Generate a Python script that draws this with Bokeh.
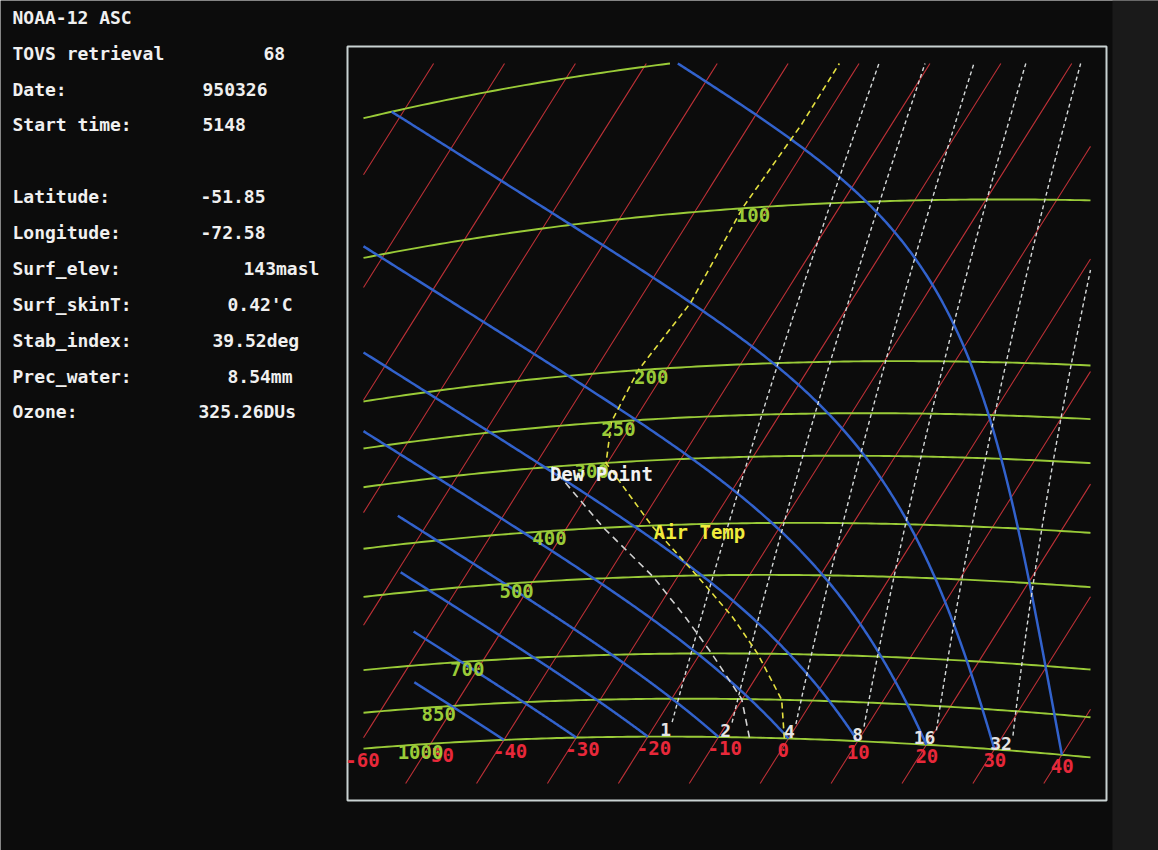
import numpy as np
from bokeh.plotting import figure
from bokeh.models import Range1d
from bokeh.embed import file_html
from bokeh.resources import INLINE
from bokeh.core.properties import value

# ---------------- data ----------------
info_labels = ["NOAA-12 ASC", "TOVS retrieval", "Date:", "Start time:", "Latitude:",
               "Longitude:", "Surf_elev:", "Surf_skinT:", "Stab_index:", "Prec_water:", "Ozone:"]
info_values = ["", "68", "950326", "5148", "-51.85", "-72.58", "143masl",
               "0.42'C", "39.52deg", "8.54mm", "325.26DUs"]

isobars = [1000, 850, 700, 500, 400, 300, 250, 200, 100, 50]          # hPa
isobar_labels = ["1000", "850", "700", "500", "400", "300", "250", "200", "100", ""]
isotherms = list(range(-130, 41, 10))                                   # degC
isotherm_labels = [-60, -50, -40, -30, -20, -10, 0, 10, 20, 30, 40]
theta_w = [-40, -30, -20, -10, 0, 10, 20, 30, 40]                       # saturated adiabats
theta_w_top = [755, 600, 455, 350, 50, 50, 50, 50, 50]                  # hPa where each ends
mixing_ratios = [1, 2, 4, 8, 16, 32]                                    # g/kg
mixing_bottom = 940                                                     # hPa

air_p = [1000, 850, 700, 600, 500, 400, 300, 250, 200, 150, 100, 70, 50]
air_T = [-0.6, -4.4, -11.9, -18.6, -27.4, -38.2, -50.2, -53.1, -53.9, -52.5, -53.6, -52.7, -52.8]
dew_p = [1000, 850, 700, 600, 500, 400, 300]
dew_T = [-5.6, -10.1, -18.4, -25.2, -33.5, -44.8, -57.5]

# ---------------- layout (page pixel space) ----------------
W, H = 1158, 850
X0, Y0 = 788.0, 738.0          # position of 0 degC / 1000 hPa
M_T = 6.0                      # px per degC along the T axis
K_TH = 965.0                   # px per unit ln(theta)
PHI = np.deg2rad(32.2)         # rotation of the tephigram
XMIN, XMAX, YMIN, YMAX = 363.0, 1090.0, 63.0, 783.0
ISOBAR_LABEL_T = -55.0

FONT = value("DejaVu Sans Mono")
LV, CP, EPS = 2.501e6, 1005.7, 0.622


def teph(T, p):
    T = np.asarray(T, float)
    p = np.asarray(p, float)
    Tk = T + 273.15
    theta = Tk * (1000.0 / p) ** 0.2857
    U = M_T * T
    V = K_TH * np.log(theta / 273.15)
    x = X0 + U * np.cos(PHI) + V * np.sin(PHI)
    y = Y0 + U * np.sin(PHI) - V * np.cos(PHI)
    return x, y


def clip_seg(x0, y0, x1, y1):
    dx, dy = x1 - x0, y1 - y0
    t0, t1 = 0.0, 1.0
    for pk, qk in ((-dx, x0 - XMIN), (dx, XMAX - x0), (-dy, y0 - YMIN), (dy, YMAX - y0)):
        if pk == 0:
            if qk < 0:
                return None
        else:
            r = qk / pk
            if pk < 0:
                if r > t1:
                    return None
                t0 = max(t0, r)
            else:
                if r < t0:
                    return None
                t1 = min(t1, r)
    return (x0 + t0 * dx, y0 + t0 * dy, x0 + t1 * dx, y0 + t1 * dy), t0, t1


def clip_poly(x, y):
    pieces = []
    cx, cy = [], []
    for i in range(len(x) - 1):
        res = clip_seg(x[i], y[i], x[i + 1], y[i + 1])
        if res is None:
            if len(cx) > 1:
                pieces.append((cx, cy))
            cx, cy = [], []
            continue
        (ax, ay, bx, by), t0, t1 = res
        if not cx or t0 > 0:
            if len(cx) > 1:
                pieces.append((cx, cy))
            cx, cy = [ax], [ay]
        cx.append(bx)
        cy.append(by)
        if t1 < 1:
            pieces.append((cx, cy))
            cx, cy = [], []
    if len(cx) > 1:
        pieces.append((cx, cy))
    return pieces


def collect(curves):
    xs, ys = [], []
    for x, y in curves:
        for px, py in clip_poly(list(x), list(y)):
            xs.append(px)
            ys.append(py)
    return xs, ys


def sat_mix(Tk, p):
    es = 6.112 * np.exp(17.67 * (Tk - 273.15) / (Tk - 29.65))
    return EPS * es / (p - es)


def theta_e(Tk, p):
    return Tk * (1000.0 / p) ** 0.2857 * np.exp(LV * sat_mix(Tk, p) / (CP * Tk))


def sat_adiabat(tw, ptop):
    ps = np.exp(np.linspace(np.log(1000.0), np.log(ptop), 400))
    target = theta_e(tw + 273.15, 1000.0)
    lo = np.full_like(ps, 120.0)
    hi = np.full_like(ps, tw + 273.15 + 0.5)
    for _ in range(60):
        mid = 0.5 * (lo + hi)
        f = theta_e(mid, ps) - target
        lo = np.where(f < 0, mid, lo)
        hi = np.where(f < 0, hi, mid)
    return 0.5 * (lo + hi) - 273.15, ps


def mix_T(w_gkg, p):
    w = w_gkg / 1000.0
    e = w * np.asarray(p, float) / (EPS + w)
    a = np.log(e / 6.112)
    return 243.5 * a / (17.67 - a)


p = figure(width=W, height=H, output_backend="svg", toolbar_location=None,
           x_range=Range1d(0, W), y_range=Range1d(H, 0),
           min_border=0, background_fill_color="#0c0c0c", border_fill_color="#0c0c0c",
           outline_line_color=None)
p.axis.visible = False
p.grid.visible = False

# slightly lighter strip on the right edge of the photo
p.quad(left=1112, right=W, top=0, bottom=H, fill_color="#1a1a1a", line_color=None)
# diagram frame
p.quad(left=347, right=1106, top=46, bottom=800, fill_color=None,
       line_color="#c9d2d2", line_width=2)

# isotherms
iso_curves = []
for T in isotherms:
    pp = np.exp(np.linspace(np.log(1300), np.log(20), 60))
    iso_curves.append(teph(np.full_like(pp, T), pp))
xs, ys = collect(iso_curves)
p.multi_line(xs, ys, line_color="#bb3036", line_width=1.1)

# isobars
bar_curves = []
for pr in isobars:
    TT = np.linspace(-150, 60, 300)
    bar_curves.append(teph(TT, np.full_like(TT, pr)))
xs, ys = collect(bar_curves)
p.multi_line(xs, ys, line_color="#9acb38", line_width=1.9)

# saturated adiabats
sat_curves = []
for tw, ptop in zip(theta_w, theta_w_top):
    TT, pp = sat_adiabat(tw, ptop)
    sat_curves.append(teph(TT, pp))
xs, ys = collect(sat_curves)
p.multi_line(xs, ys, line_color="#3262cc", line_width=2.5)

# mixing ratio lines
mix_curves = []
for w in mixing_ratios:
    pp = np.exp(np.linspace(np.log(mixing_bottom), np.log(40), 120))
    mix_curves.append(teph(mix_T(w, pp), pp))
xs, ys = collect(mix_curves)
p.multi_line(xs, ys, line_color="#d6dada", line_width=1.4, line_dash="4 3")

# profiles
ax_, ay_ = teph(air_T, air_p)
xs, ys = collect([(ax_, ay_)])
p.multi_line(xs, ys, line_color="#e4e040", line_width=1.6, line_dash="6 4")
dx_, dy_ = teph(dew_T, dew_p)
xs, ys = collect([(dx_, dy_)])
p.multi_line(xs, ys, line_color="#d2d2d2", line_width=1.6, line_dash="7 5")

# isotherm labels at 1000 hPa
lx, ly = teph(isotherm_labels, np.full(len(isotherm_labels), 1000.0))
p.text(x=lx, y=ly, text=[str(t) for t in isotherm_labels], text_font=FONT,
       text_font_style="bold", text_font_size="19px", text_color="#e8283a",
       text_align="left", text_baseline="top", x_offset=-11, y_offset=4)

# isobar labels
lab_p = [pr for pr, s in zip(isobars, isobar_labels) if s]
lab_s = [s for s in isobar_labels if s]
lx, ly = teph(np.full(len(lab_p), ISOBAR_LABEL_T), lab_p)
p.text(x=lx, y=ly, text=lab_s, text_font=FONT, text_font_style="bold",
       text_font_size="19px", text_color="#9acb38", text_align="left",
       text_baseline="middle", x_offset=4, y_offset=6)

# mixing ratio labels
mt = [float(mix_T(w, mixing_bottom)) for w in mixing_ratios]
lx, ly = teph(mt, np.full(len(mt), float(mixing_bottom)))
p.text(x=lx, y=ly, text=[str(w) for w in mixing_ratios], text_font=FONT,
       text_font_style="bold", text_font_size="18px", text_color="#e4e4e4",
       text_align="right", text_baseline="top", x_offset=-1, y_offset=1)

# profile names
p.text(x=[dx_[-1]], y=[dy_[-1]], text=["Dew Point"], text_font=FONT, text_font_style="bold",
       text_font_size="19px", text_color="#f2f2f2", text_align="left",
       text_baseline="middle", x_offset=-2, y_offset=7)
i400 = air_p.index(400)
p.text(x=[ax_[i400]], y=[ay_[i400]], text=["Air Temp"], text_font=FONT, text_font_style="bold",
       text_font_size="19px", text_color="#f0ec3c", text_align="left",
       text_baseline="middle", x_offset=2, y_offset=6)

# info panel
info_y = [17, 53, 89, 124, 196, 232, 268, 304, 340, 376, 411]
value_x = [0, 263, 202, 202, 200, 200, 243, 227, 212, 227, 198]
p.text(x=[12] * len(info_labels), y=info_y, text=info_labels, text_font=FONT,
       text_font_style="bold", text_font_size="18px", text_color="#f0f0f0",
       text_align="left", text_baseline="middle")
vx = [x for x, v in zip(value_x, info_values) if v]
vy = [y for y, v in zip(info_y, info_values) if v]
vv = [v for v in info_values if v]
p.text(x=vx, y=vy, text=vv, text_font=FONT, text_font_style="bold",
       text_font_size="18px", text_color="#f0f0f0", text_align="left", text_baseline="middle")

open("out.html", "w").write(file_html(p, INLINE))
